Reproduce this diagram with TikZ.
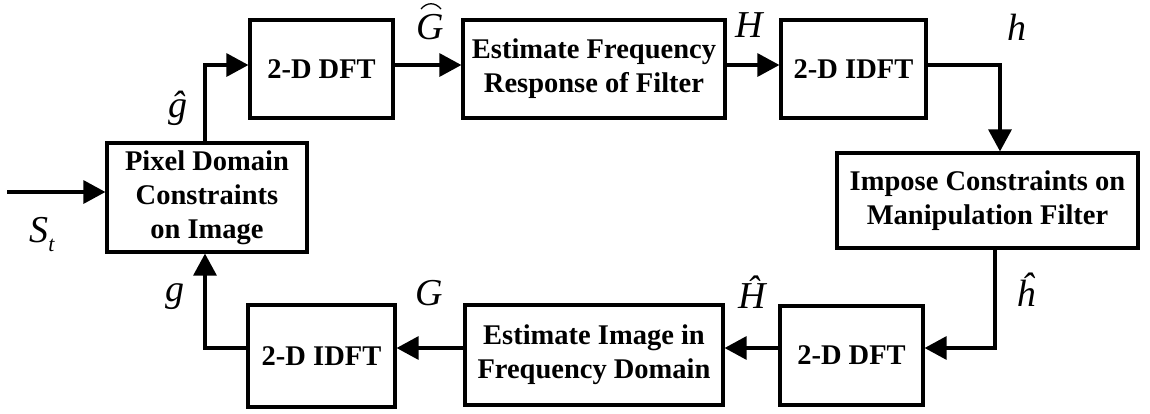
\documentclass[tikz,border=0pt]{standalone}
\usepackage{fontspec}
\setmainfont{Liberation Serif}
\usetikzlibrary{arrows.meta}
\tikzset{
  blk/.style={draw, line width=3.2pt, inner sep=0pt, align=center,
    font=\fontsize{28.5}{34}\selectfont\bfseries},
  conn/.style={line width=3.2pt, -{Triangle[length=22pt,width=23pt]}},
  lbl/.style={inner sep=0pt, anchor=base, font=\fontsize{38}{38}\selectfont\itshape},
}
\begin{document}
\begin{tikzpicture}[x=1pt,y=-1pt]
\useasboundingbox (0,0) rectangle (1150,413);
% boxes
\node[blk, minimum width=200pt, minimum height=109pt] (pix) at (207,197.5) {Pixel Domain\\Constraints\\on Image};
\node[blk, minimum width=143pt, minimum height=98pt] (dft1) at (321.5,69) {2-D DFT};
\node[blk, minimum width=262pt, minimum height=98pt] (estf) at (594,69) {Estimate Frequency\\Response of Filter};
\node[blk, minimum width=145pt, minimum height=98pt] (idft1) at (853.5,69) {2-D IDFT};
\node[blk, minimum width=301pt, minimum height=95pt] (imp) at (987.5,200.5) {Impose Constraints on\\Manipulation Filter};
\node[blk, minimum width=143pt, minimum height=99pt] (dft2) at (851.5,355.5) {2-D DFT};
\node[blk, minimum width=258pt, minimum height=100pt] (esti) at (594,355) {Estimate Image in\\Frequency Domain};
\node[blk, minimum width=147pt, minimum height=102pt] (idft2) at (321.5,356) {2-D IDFT};
% helper coordinates
\coordinate (in) at (7,192);
\coordinate (top) at (0,65);
\coordinate (bot) at (0,348);
\coordinate (up) at (205,0);
\coordinate (rt) at (1000,0);
\coordinate (dn) at (995,0);
% connectors
\draw[conn] (in) -- (pix.west |- in);
\draw[conn] (pix.north -| up) -- (up |- top) -- (dft1.west |- top);
\draw[conn] (dft1.east |- top) -- (estf.west |- top);
\draw[conn] (estf.east |- top) -- (idft1.west |- top);
\draw[conn] (idft1.east |- top) -- (rt |- top) -- (rt |- imp.north);
\draw[conn] (imp.south -| dn) -- (dn |- bot) -- (dft2.east |- bot);
\draw[conn] (dft2.west |- bot) -- (esti.east |- bot);
\draw[conn] (esti.west |- bot) -- (idft2.east |- bot);
\draw[conn] (idft2.west |- bot) -- (up |- bot) -- (up |- pix.south);
% labels
\node[lbl] (lGh) at (430,39) {G};
\draw[line width=1.3pt] ([xshift=-9pt,yshift=30pt]lGh.base) .. controls ([xshift=-3pt,yshift=37pt]lGh.base) and ([xshift=5pt,yshift=37pt]lGh.base) .. ([xshift=11pt,yshift=30pt]lGh.base);
\node[lbl] (lH) at (749,37) {H};
\node[lbl] (lh) at (1017,40) {h};
\node[lbl] (lgh) at (178,117) {\^{g}};
\node[lbl] (lS) at (42,242) {S\raisebox{-0.25em}{\fontsize{22}{22}\selectfont t}};
\node[lbl] (lg) at (175,301) {g};
\node[lbl] (lG) at (429,305) {G};
\node[lbl] (lHh) at (752,308) {\^{H}};
\node[lbl] (lhh) at (1026,306) {\^{h}};
\end{tikzpicture}
\end{document}
